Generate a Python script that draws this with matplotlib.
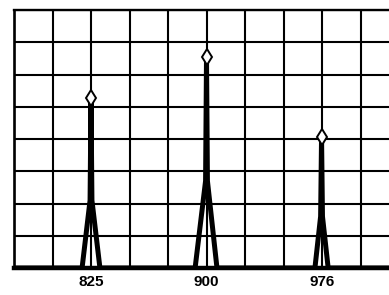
import matplotlib
matplotlib.use('Agg')
import matplotlib.pyplot as plt
from matplotlib.ticker import MultipleLocator, FixedLocator

# spectrum trace (x in cm-1, y in grid units)
wavenumber = [770, 819.2, 824.4, 825.0, 825.6, 830.8,
              892.6, 899.4, 900.0, 900.6, 906.8,
              970.4, 974.1, 974.7, 975.3, 979.0, 1030]
intensity = [0, 0, 2.1, 5.27, 2.1, 0,
             0, 2.7, 6.54, 2.7, 0,
             0, 1.6, 4.06, 1.6, 0, 0]

peak_pos = [825.0, 900.0, 974.7]
peak_height = [5.27, 6.54, 4.06]
tick_pos = [825, 900, 975]
tick_labels = ['825', '900', '976']

fig = plt.figure(figsize=(3.89, 2.95), dpi=100)
ax = fig.add_axes([14 / 389, 27 / 295, 375 / 389, 258 / 295])

ax.plot(wavenumber, intensity, color='black', lw=3.6, zorder=3)
ax.plot(peak_pos, peak_height, linestyle='none', marker='d', markersize=8,
        markerfacecolor='white', markeredgecolor='black', markeredgewidth=1.4, zorder=4)

ax.set_xlim(775, 1018.5)
ax.set_ylim(0, 8)

ax.xaxis.remove_overlapping_locs = False
ax.xaxis.set_minor_locator(MultipleLocator(25))
ax.yaxis.set_major_locator(MultipleLocator(1))
ax.xaxis.set_major_locator(FixedLocator(tick_pos))
ax.set_xticklabels(tick_labels, fontsize=11, fontweight='bold', family='Liberation Sans')
ax.set_yticklabels([])

ax.grid(False)
ax.xaxis.grid(True, which='minor', color='black', lw=1.5)
ax.yaxis.grid(True, which='major', color='black', lw=1.5)
ax.set_axisbelow(True)

ax.tick_params(axis='both', which='both', length=0)
ax.tick_params(axis='x', pad=5)

ax.spines['right'].set_visible(False)
ax.spines['left'].set_linewidth(1.9)
ax.spines['top'].set_linewidth(1.7)
ax.spines['bottom'].set_linewidth(3.2)

fig.savefig('out.png', dpi=100)
